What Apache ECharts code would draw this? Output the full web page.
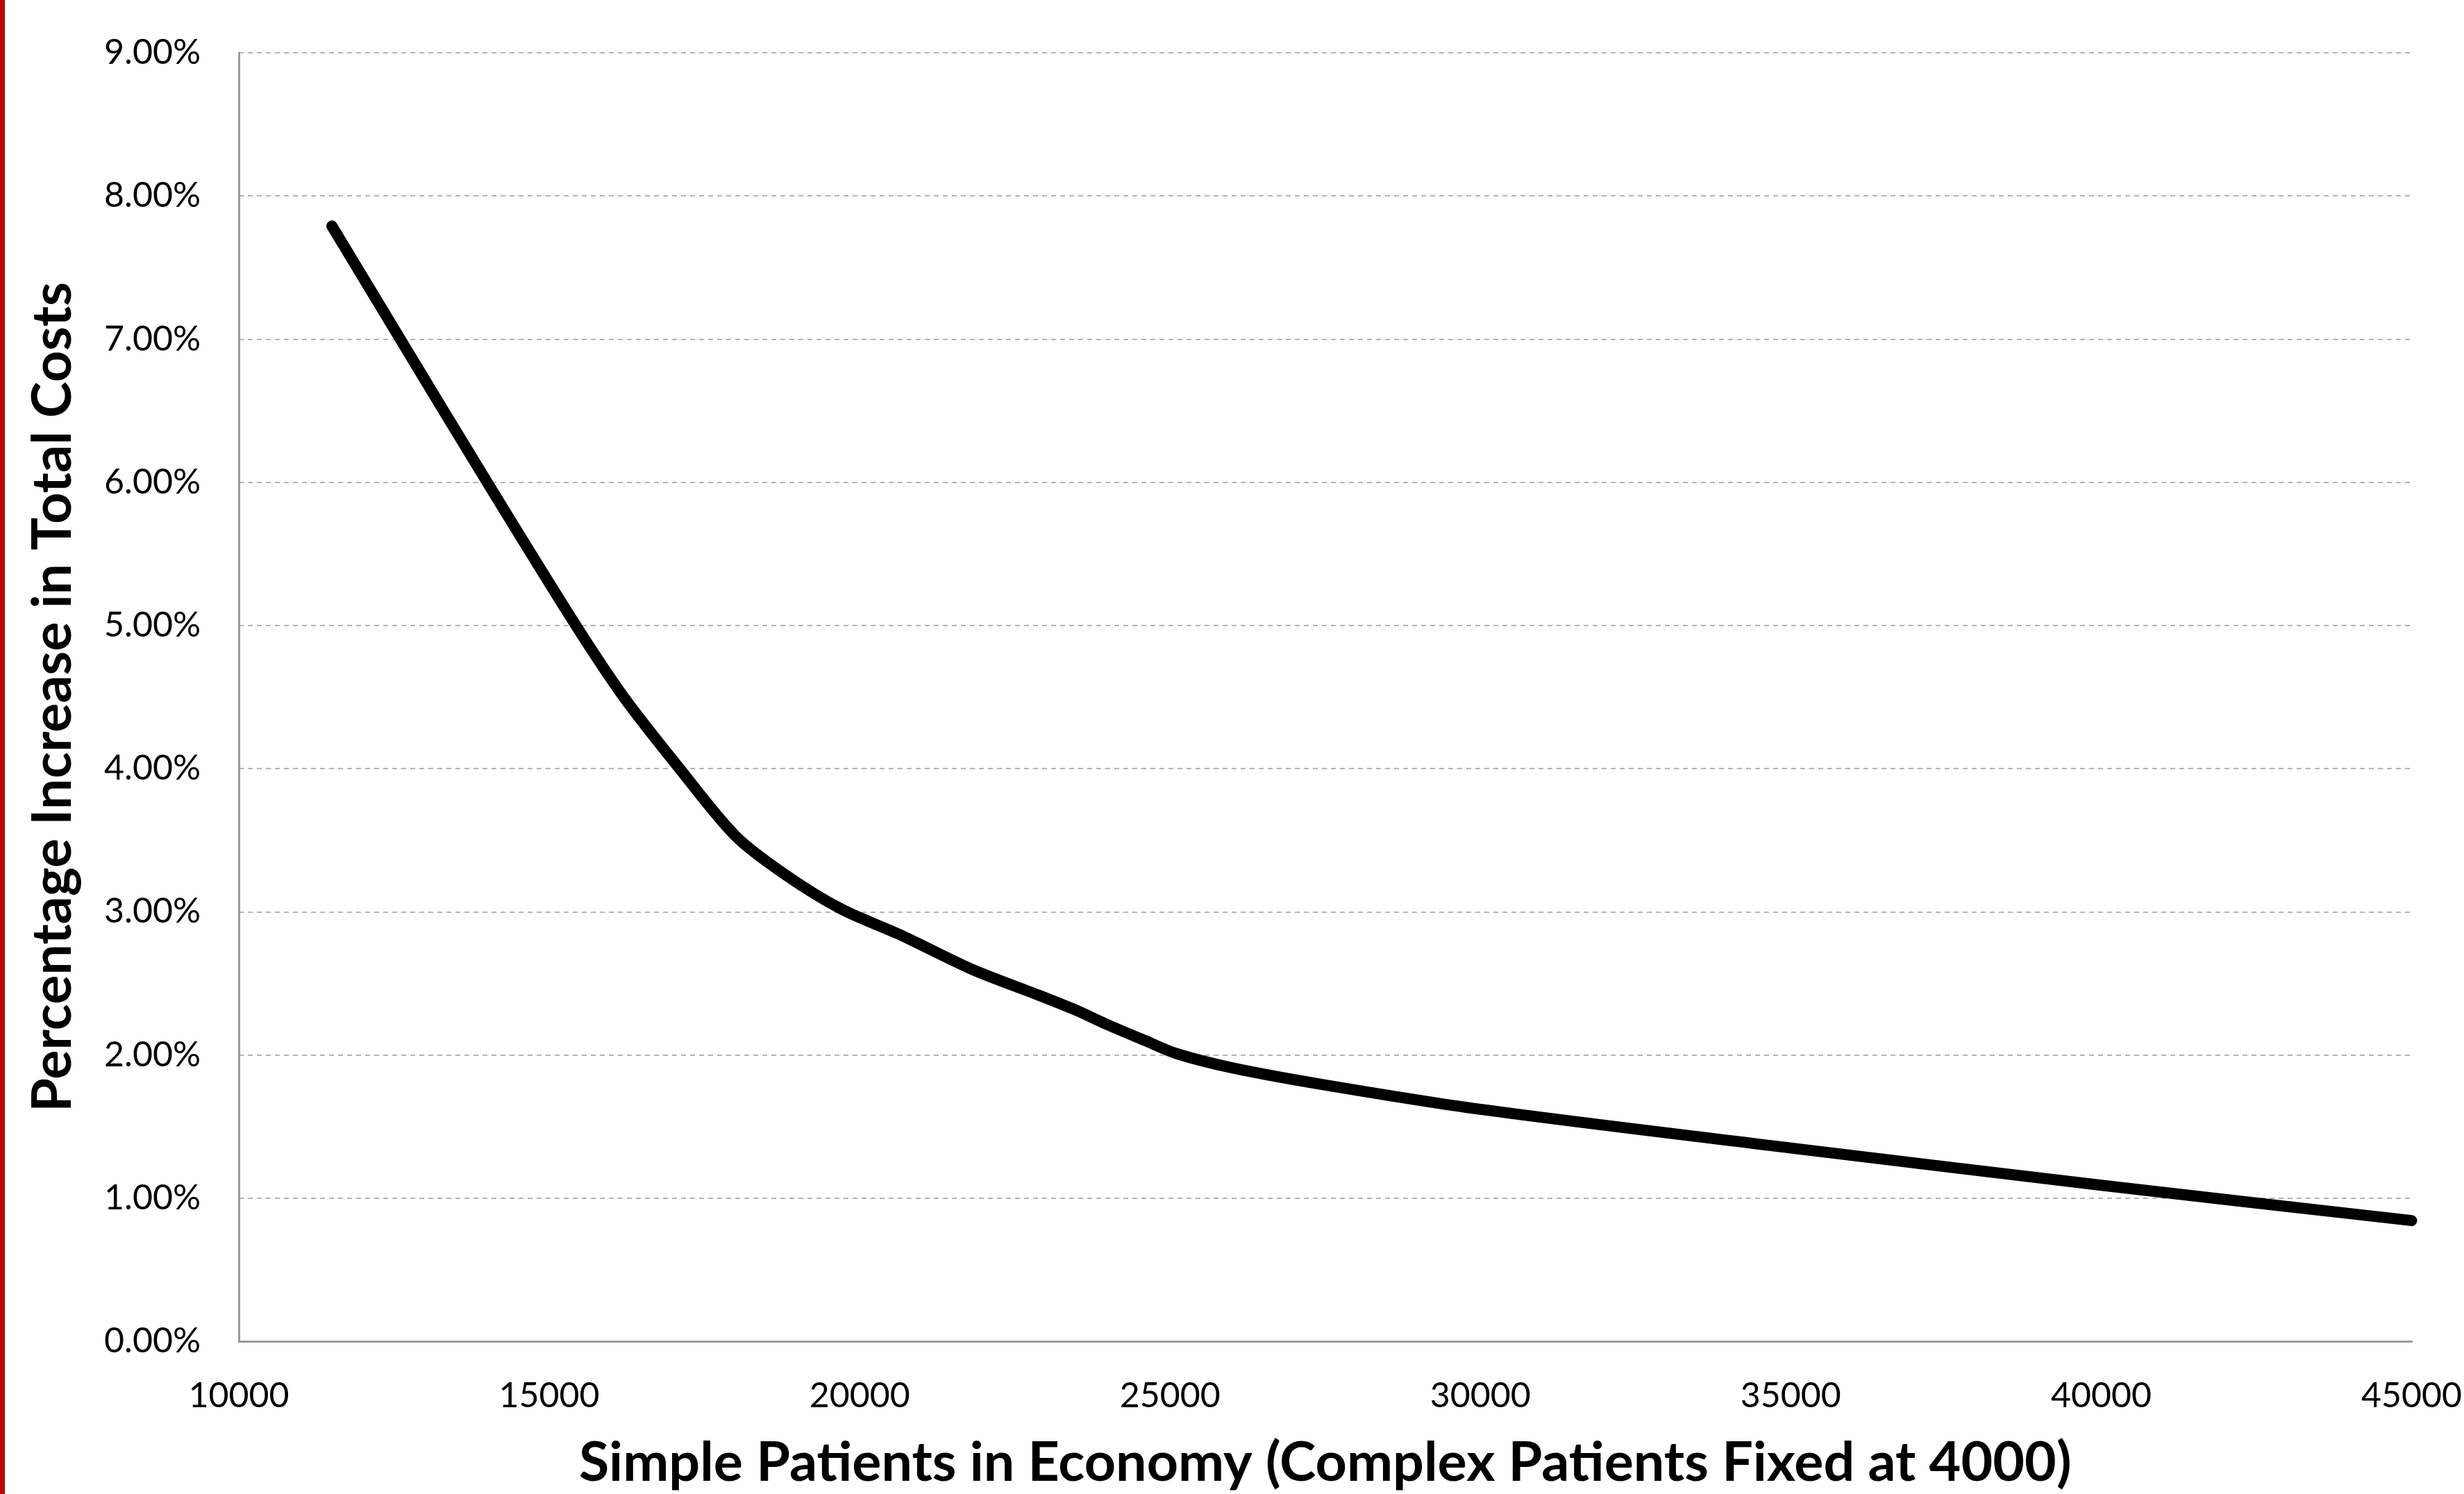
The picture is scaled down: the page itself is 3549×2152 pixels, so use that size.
<!DOCTYPE html>
<html>
<head>
<meta charset="utf-8">
<script src="https://cdn.jsdelivr.net/npm/echarts@6/dist/echarts.min.js"></script>
<style>
html,body{margin:0;padding:0;background:#fff;}
#chart{width:3549px;height:2152px;}
</style>
</head>
<body>
<div id="chart"></div>
<script>
// Data
const simplePatients = [11500, 12600, 14000, 15400, 16200, 17100, 18000, 18800, 19700, 20700, 21800, 22900, 23500, 24000, 24600, 25100, 26000, 27500, 30000, 35000, 40000, 45000];
const pctIncrease    = [7.79, 7.00, 6.00, 5.02, 4.50, 4.00, 3.53, 3.26, 3.02, 2.83, 2.60, 2.415, 2.31, 2.21, 2.10, 2.01, 1.91, 1.79, 1.62, 1.35, 1.09, 0.843];
const xTicks = {min: 10000, max: 45000, interval: 5000};
const yTicks = {min: 0, max: 9, interval: 1};
const xTitle = 'Simple Patients in Economy (Complex Patients Fixed at 4000)';
const yTitle = 'Percentage Increase in Total Costs';

const points = simplePatients.map((x, i) => [x, pctIncrease[i]]);
const FONT = 'Lato, "Open Sans", sans-serif';

const chart = echarts.init(document.getElementById('chart'), null, {renderer: 'canvas'});
chart.setOption({
  animation: false,
  backgroundColor: '#ffffff',
  graphic: [{
    type: 'rect', left: 0, top: 0,
    shape: {x: 0, y: 0, width: 7, height: 2152},
    style: {fill: '#c00000'}
  }],
  grid: {left: 344, top: 76, right: 67, bottom: 214, containLabel: false},
  xAxis: {
    type: 'value',
    min: xTicks.min, max: xTicks.max, interval: xTicks.interval,
    name: xTitle,
    nameLocation: 'middle',
    nameGap: 136,
    nameTextStyle: {fontFamily: FONT, fontWeight: 'bold', fontSize: 79, color: '#000'},
    axisLine: {show: true, lineStyle: {color: '#9a9a9a', width: 3}},
    axisTick: {show: false},
    splitLine: {show: false},
    axisLabel: {fontFamily: FONT, fontSize: 50, color: '#000', margin: 54, formatter: v => String(v)}
  },
  yAxis: {
    type: 'value',
    min: yTicks.min, max: yTicks.max, interval: yTicks.interval,
    name: yTitle,
    nameLocation: 'middle',
    nameGap: 228,
    nameRotate: 90,
    nameTextStyle: {fontFamily: FONT, fontWeight: 'bold', fontSize: 79, color: '#000'},
    axisLine: {show: true, lineStyle: {color: '#9a9a9a', width: 3}},
    axisTick: {show: false},
    splitLine: {show: true, lineStyle: {color: '#b3b3b3', width: 2, type: [7, 6]}},
    axisLabel: {fontFamily: FONT, fontSize: 50, color: '#000', margin: 55, formatter: v => v.toFixed(2) + '%'}
  },
  series: [{
    type: 'line',
    data: points,
    showSymbol: false,
    smooth: 0.3,
    clip: true,
    lineStyle: {color: '#000', width: 16, cap: 'round', join: 'round'}
  }]
});
</script>
</body>
</html>
